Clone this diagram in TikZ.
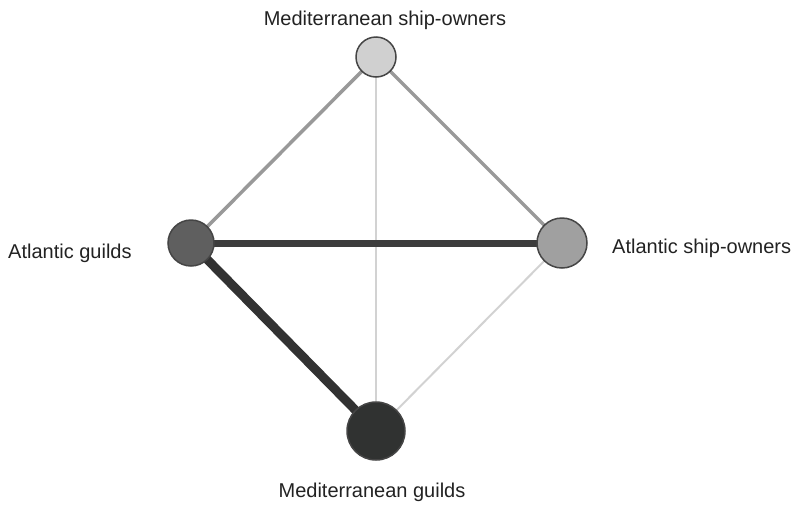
\documentclass[tikz,border=0pt]{standalone}
\usepackage{fontspec}
\setmainfont{Liberation Sans}
\usetikzlibrary{backgrounds}
\definecolor{edgemid}{HTML}{999999}
\definecolor{edgelight}{HTML}{D2D2D2}
\definecolor{edgedark}{HTML}{3C3C3C}
\definecolor{edgedarker}{HTML}{323232}
\definecolor{fillA}{HTML}{D0D0D0}
\definecolor{fillB}{HTML}{5F5F5F}
\definecolor{fillC}{HTML}{A0A0A0}
\definecolor{fillD}{HTML}{303231}
\definecolor{ringcol}{HTML}{454545}
\definecolor{textcol}{HTML}{222222}
\begin{document}
\begin{tikzpicture}[x=1pt,y=-1pt,
  vert/.style={circle,draw=ringcol,line width=1.5pt,inner sep=0pt},
  lab/.style={font=\fontsize{20}{24}\selectfont,text=textcol,inner sep=0pt},
  light/.style={draw=edgelight,line width=2pt},
  mid/.style={draw=edgemid,line width=3.5pt},
  heavy/.style={draw=edgedark,line width=7pt},
  heavier/.style={draw=edgedarker,line width=9pt}]
\useasboundingbox (0,0) rectangle (805,504);
\node[vert,fill=fillA,minimum size=40pt] (ms) at (376,57) {};
\node[vert,fill=fillB,minimum size=46pt] (ag) at (191,243) {};
\node[vert,fill=fillC,minimum size=50pt] (as) at (562,243) {};
\node[vert,fill=fillD,minimum size=58pt] (mg) at (376,431) {};
\begin{scope}[on background layer]
\path[light] (ms.center) -- (mg.center);
\path[light] (as.center) -- (mg.center);
\path[mid] (ms.center) -- (ag.center);
\path[mid] (ms.center) -- (as.center);
\path[heavy] (ag.center) -- (as.center);
\path[heavier] (ag.center) -- (mg.center);
\end{scope}
\node[lab,anchor=base] (lms) at (385,25) {Mediterranean ship-owners};
\node[lab,anchor=base] (lmg) at (372,497) {Mediterranean guilds};
\node[lab,anchor=base west] (lag) at (8,258) {Atlantic guilds};
\node[lab,anchor=base west] (las) at (612,253) {Atlantic ship-owners};
\end{tikzpicture}
\end{document}
